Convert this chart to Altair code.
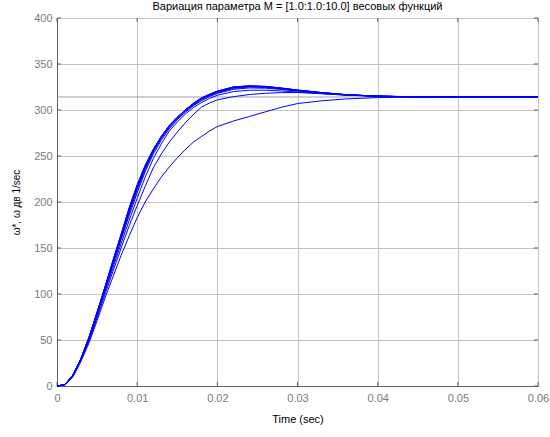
import altair as alt
import pandas as pd

T = [0, .001, .002, .003, .004, .005, .006, .007, .008, .009, .010, .011, .012, .013, .014, .015,
     .016, .017, .018, .019, .020, .022, .024, .026, .028, .030, .033, .036, .040, .045, .050, .060]

M1 = [0, 1, 10, 27, 47, 71, 96, 119, 142, 163, 183, 200, 214, 227, 238, 248, 257, 265, 271, 277, 282, 288, 293, 298, 303, 307, 310, 312, 313.5, 314, 314.2, 314.2]
M2 = [0, 1.5, 11, 28, 49, 74, 100, 125, 150, 174, 196, 217, 237, 252, 265, 276, 286, 295, 303, 307.5, 311, 314.5, 316.8, 318.2, 318.9, 319, 318, 316.6, 315.1, 314.4, 314.2, 314.2]
M3 = [0, 1.5, 11.5, 29, 51, 77, 103, 129, 155, 180, 204, 227, 247, 263, 277, 287, 295.5, 302.5, 308, 312.5, 316, 320, 321.5, 321.5, 320.7, 319.5, 317.6, 316.2, 314.9, 314.3, 314.2, 314.2]
M4 = [0, 1.5, 12, 30, 52, 78, 105, 132, 159, 185, 210, 233, 252, 267, 279.5, 289.5, 297.5, 304.5, 310, 314.5, 318, 322.5, 324, 323.7, 322.3, 320.5, 318, 316.2, 314.9, 314.3, 314.2, 314.2]
M5 = [0, 1.5, 12, 30, 53, 79, 106, 134, 161, 188, 213, 235, 254, 269, 281, 290.5, 298.5, 305.5, 311, 315.5, 319, 323.5, 325, 324.5, 323, 321, 318.3, 316.4, 315, 314.3, 314.2, 314.2]
M6 = [0, 1.5, 12, 30, 53, 79, 107, 135, 162, 190, 215, 237, 255, 270, 282, 291.5, 299.5, 306, 312, 316, 319.5, 324.2, 325.5, 325, 323.3, 321.2, 318.6, 316.5, 315, 314.3, 314.2, 314.2]
M7 = [0, 1.5, 12, 30, 53, 80, 107, 136, 163, 191, 216, 238, 256, 271, 282.5, 292, 300, 306.5, 312.5, 316.5, 320, 324.6, 325.8, 325.3, 323.5, 321.4, 318.8, 316.6, 315, 314.3, 314.2, 314.2]
M8 = [0, 1.5, 12, 30, 53, 80, 108, 136, 164, 192, 217, 239, 256.5, 271, 283, 292, 300, 307, 312.8, 316.8, 320.3, 324.9, 326, 325.5, 323.7, 321.5, 318.9, 316.7, 315, 314.3, 314.2, 314.2]
M9 = [0, 1.5, 12, 30, 53, 80, 108, 137, 165, 193, 218, 239.5, 257, 271, 283, 292, 300, 307, 313, 317, 320.5, 325, 326.2, 325.6, 323.8, 321.6, 319, 316.7, 315, 314.3, 314.2, 314.2]
M10 = [0, 1.5, 12, 30, 53, 80, 108, 137, 165, 194, 219, 240, 257, 271, 283, 292, 300, 307, 313, 317, 320.5, 325, 326.3, 325.7, 323.9, 321.7, 319, 316.7, 315, 314.3, 314.2, 314.2]

SERIES = [M1, M2, M3, M4, M5, M6, M7, M8, M9, M10]
REF = [314.16]
X_TICKS = [0, 0.01, 0.02, 0.03, 0.04, 0.05, 0.06]
Y_TICKS = [0, 50, 100, 150, 200, 250, 300, 350, 400]

TITLE = "Вариация параметра M = [1.0:1.0:10.0] весовых функций"
FONT = "Liberation Sans"
W, H = 481, 368

rows = []
for i, s in enumerate(SERIES):
    for t, v in zip(T, s):
        rows.append({"t": t, "w": v, "M": i + 1})
df = pd.DataFrame(rows)

xscale = alt.Scale(domain=[0, 0.06], nice=False)
yscale = alt.Scale(domain=[0, 400], nice=False)

xaxis = alt.Axis(values=X_TICKS, format="~g", title="Time (sec)", grid=True, labelFlush=False,
                 gridColor="#c4c4c4", domainColor="#606060", ticks=False,
                 labelColor="#7a7a7a", labelFont=FONT, labelFontSize=11, labelPadding=6,
                 titleFont=FONT, titleFontSize=11, titleFontWeight="normal", titleColor="#000000",
                 titlePadding=10)
yaxis = alt.Axis(values=Y_TICKS, title="ω*, ω дв  1/sec", grid=True, labelFlush=False,
                 gridColor="#c4c4c4", domainColor="#606060", ticks=False,
                 labelColor="#7a7a7a", labelFont=FONT, labelFontSize=11, labelPadding=5,
                 titleFont=FONT, titleFontSize=10, titleFontWeight="normal", titleColor="#000000",
                 titlePadding=12)

ref = alt.Chart(pd.DataFrame({"y": REF})).mark_rule(color="#a0a0a0", strokeWidth=1).encode(
    y=alt.Y("y:Q", scale=yscale, axis=yaxis)
)

xt = pd.DataFrame({"x": X_TICKS})
yt = pd.DataFrame({"y": Y_TICKS})
tick_col = "#606060"
xt_bot = alt.Chart(xt).mark_rule(color=tick_col).encode(
    x=alt.X("x:Q", scale=xscale, axis=xaxis), y=alt.value(H), y2=alt.value(H - 4))
xt_top = alt.Chart(xt).mark_rule(color=tick_col).encode(
    x=alt.X("x:Q", scale=xscale, axis=xaxis), y=alt.value(0), y2=alt.value(4))
yt_left = alt.Chart(yt).mark_rule(color=tick_col).encode(
    y=alt.Y("y:Q", scale=yscale, axis=yaxis), x=alt.value(0), x2=alt.value(4))
yt_right = alt.Chart(yt).mark_rule(color=tick_col).encode(
    y=alt.Y("y:Q", scale=yscale, axis=yaxis), x=alt.value(W), x2=alt.value(W - 4))

lines = alt.Chart(df).mark_line(color="#0000ff", strokeWidth=1).encode(
    x=alt.X("t:Q", scale=xscale, axis=xaxis),
    y=alt.Y("w:Q", scale=yscale, axis=yaxis),
    detail="M:N",
)

chart = alt.layer(ref, xt_bot, xt_top, yt_left, yt_right, lines).properties(
    width=W, height=H,
    title=alt.TitleParams(TITLE, font=FONT, fontSize=11, fontWeight="normal", color="#000000", offset=0),
    autosize=alt.AutoSizeParams(type="none"),
    padding={"left": 57, "top": 18, "right": 12, "bottom": 51},
).configure_view(stroke="#606060", strokeWidth=1).configure(background="#ffffff")

chart.save("out.html", embed_options={"renderer": "svg", "actions": False})
